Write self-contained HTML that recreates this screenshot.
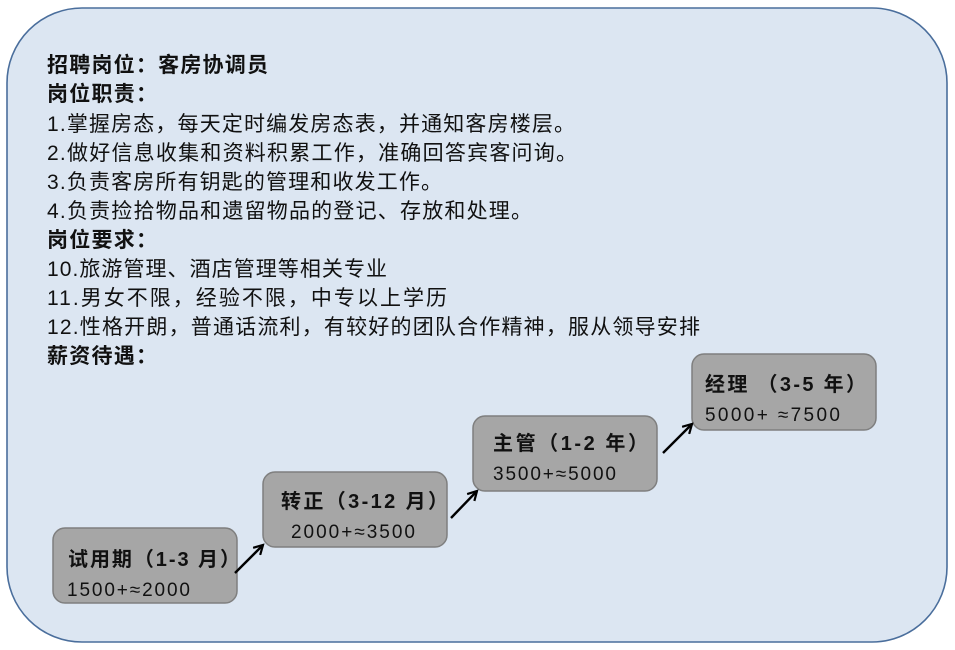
<!DOCTYPE html>
<html><head><meta charset="utf-8">
<style>
html,body{margin:0;padding:0;background:#fff;width:955px;height:650px;overflow:hidden}
svg{display:block}
text{font-family:"Liberation Sans","Noto Sans CJK SC",sans-serif;fill:#111}
.b{font-weight:bold}
</style></head><body>
<svg width="955" height="650" viewBox="0 0 955 650" xmlns="http://www.w3.org/2000/svg">
<defs>
<marker id="ah" markerWidth="12" markerHeight="12" refX="10" refY="6" orient="auto" markerUnits="userSpaceOnUse">
<path d="M1,1 L10,6 L1,11" fill="none" stroke="#000" stroke-width="2.2"/>
</marker>
</defs>
<rect x="7" y="8" width="940" height="634" rx="75" ry="75" fill="#dce6f2" stroke="#4a6e9c" stroke-width="1.6"/>
<g font-size="21">
<text x="47" y="72" class="b" textLength="221" lengthAdjust="spacing">招聘岗位：客房协调员</text>
<text x="47" y="101" class="b" textLength="110" lengthAdjust="spacing">岗位职责：</text>
<text x="47" y="131" textLength="528" lengthAdjust="spacing">1.掌握房态，每天定时编发房态表，并通知客房楼层。</text>
<text x="47" y="160" textLength="530" lengthAdjust="spacing">2.做好信息收集和资料积累工作，准确回答宾客问询。</text>
<text x="47" y="189" textLength="395" lengthAdjust="spacing">3.负责客房所有钥匙的管理和收发工作。</text>
<text x="47" y="218" textLength="485" lengthAdjust="spacing">4.负责捡拾物品和遗留物品的登记、存放和处理。</text>
<text x="47" y="247" class="b" textLength="110" lengthAdjust="spacing">岗位要求：</text>
<text x="47" y="276" textLength="340" lengthAdjust="spacing">10.旅游管理、酒店管理等相关专业</text>
<text x="47" y="305" textLength="400" lengthAdjust="spacing">11.男女不限，经验不限，中专以上学历</text>
<text x="47" y="334" textLength="653" lengthAdjust="spacing">12.性格开朗，普通话流利，有较好的团队合作精神，服从领导安排</text>
<text x="47" y="363" class="b" textLength="110" lengthAdjust="spacing">薪资待遇：</text>
</g>
<g fill="#a6a6a6" stroke="#7f7f7f" stroke-width="1.5">
<rect x="53" y="528" width="184" height="75" rx="12"/>
<rect x="263" y="472" width="184" height="75" rx="12"/>
<rect x="473" y="416" width="184" height="75" rx="12"/>
<rect x="692" y="354" width="184" height="76" rx="12"/>
</g>
<g font-size="20">
<text x="68" y="566" class="b" textLength="172" lengthAdjust="spacing">试用期（1-3 月）</text>
<text x="67" y="596" font-size="19" textLength="123" lengthAdjust="spacing">1500+≈2000</text>
<text x="281" y="508" class="b" textLength="167" lengthAdjust="spacing">转正（3-12 月）</text>
<text x="291" y="538" font-size="19" textLength="124" lengthAdjust="spacing">2000+≈3500</text>
<text x="493" y="450" class="b" textLength="155" lengthAdjust="spacing">主管（1-2 年）</text>
<text x="493" y="480" font-size="19" textLength="123" lengthAdjust="spacing">3500+≈5000</text>
<text x="705" y="391" class="b" textLength="161" lengthAdjust="spacing">经理 （3-5 年）</text>
<text x="705" y="421" font-size="19" textLength="135" lengthAdjust="spacing">5000+ ≈7500</text>
</g>
<g stroke="#000" stroke-width="2.4" marker-end="url(#ah)">
<line x1="235" y1="573" x2="263" y2="545"/>
<line x1="451" y1="518" x2="477" y2="491"/>
<line x1="663" y1="453" x2="692" y2="424"/>
</g>
</svg>
</body></html>
